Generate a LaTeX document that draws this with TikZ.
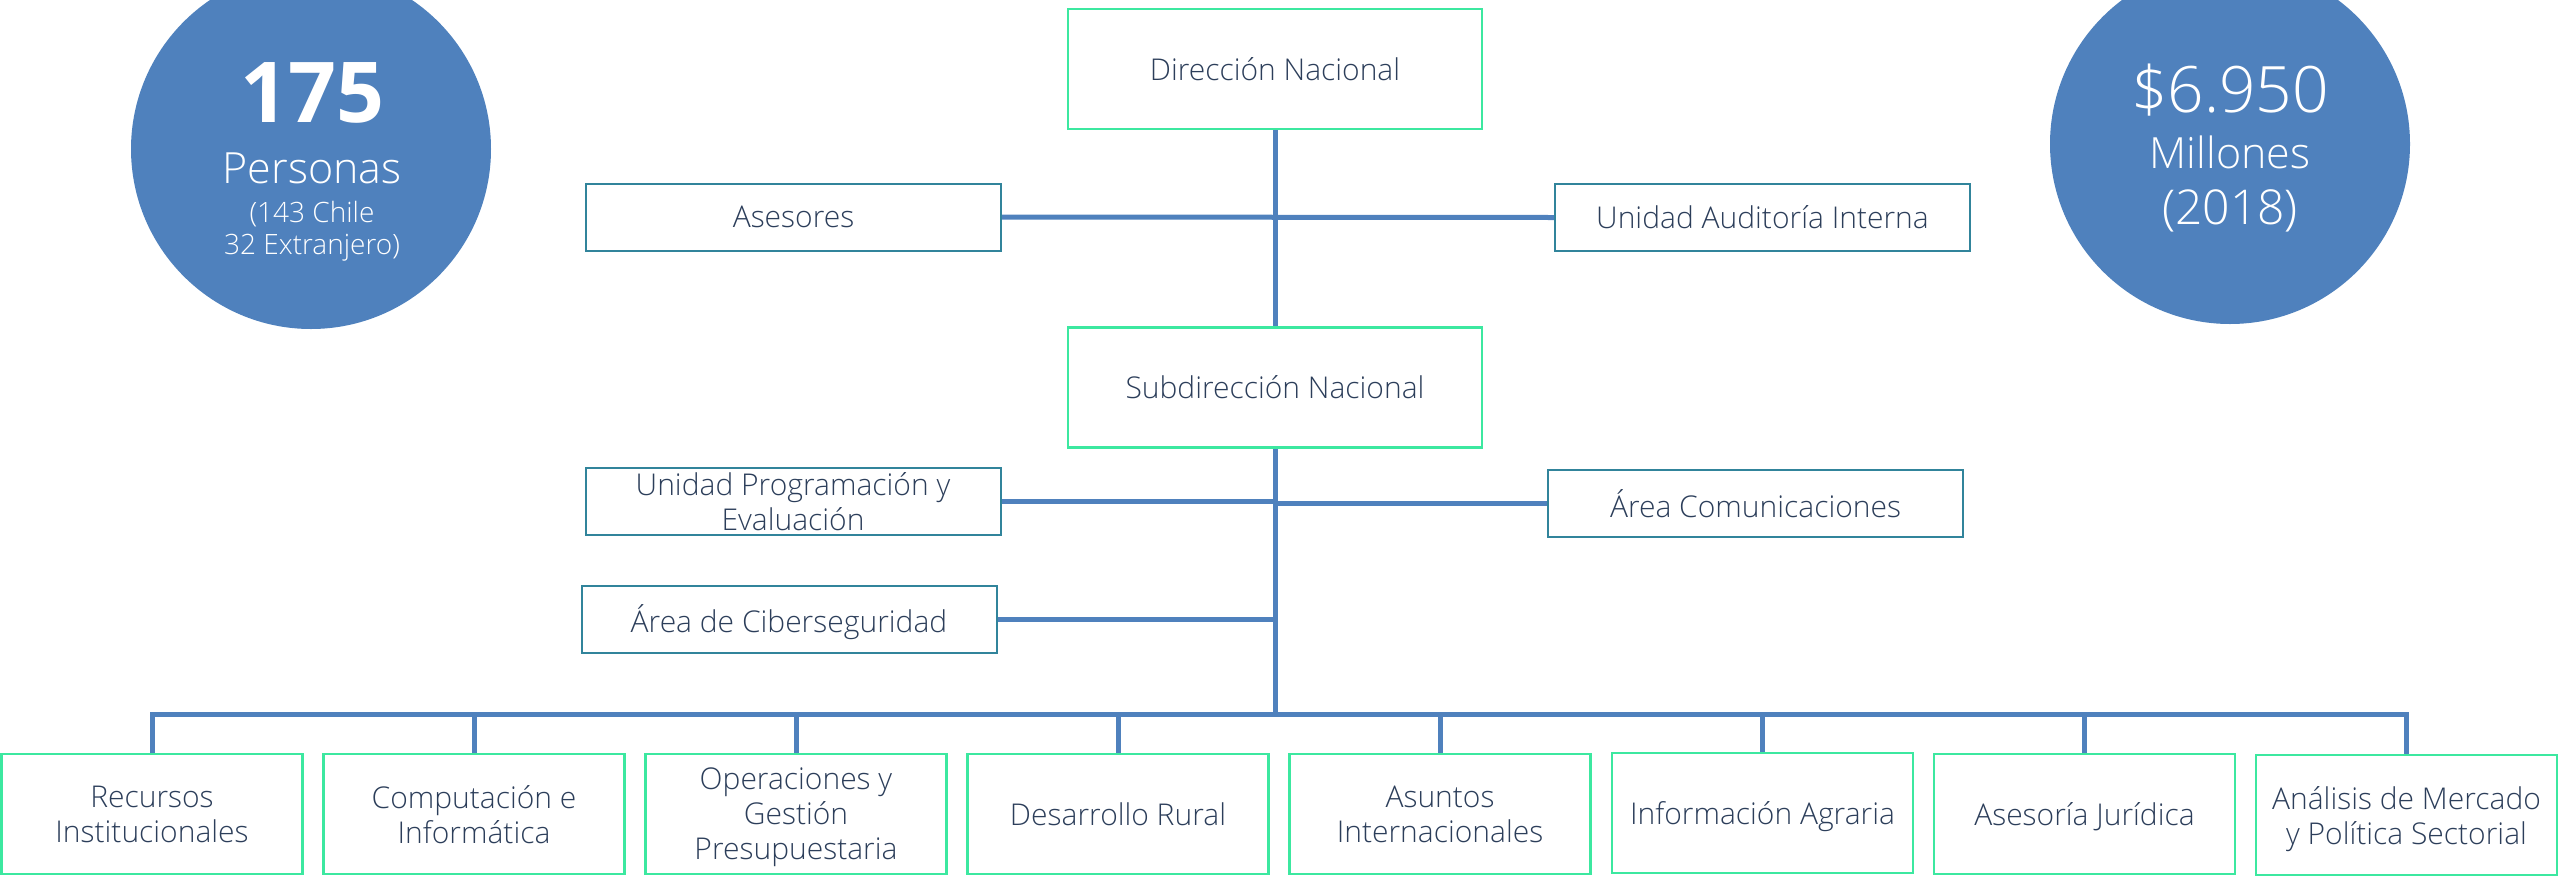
\documentclass[tikz,border=0pt]{standalone}
\usepackage{fontspec}
\setmainfont{Open Sans}[UprightFont=* Light, BoldFont=* Bold]
\definecolor{conn}{HTML}{4F81BD}
\definecolor{mint}{HTML}{3CE8A0}
\definecolor{tealb}{HTML}{31849B}
\definecolor{ink}{HTML}{2C3E5A}
\tikzset{
  boxtext/.style={align=center, text=ink, inner sep=0pt, text depth=0pt, font=\fontsize{30}{35}\selectfont},
  mainbox/.style={boxtext, draw=mint, line width=2.5pt, minimum width=414pt, minimum height=120pt},
  sidebox/.style={boxtext, draw=tealb, line width=2pt, minimum width=415pt, minimum height=67pt},
  unitbox/.style={boxtext, draw=mint, line width=2.5pt, minimum width=301pt, minimum height=120pt},
  link/.style={draw=conn, line width=5pt},
  stat/.style={circle, fill=conn, minimum size=360pt, inner sep=0pt},
  stattext/.style={text=white, anchor=base, inner sep=0pt},
}
\begin{document}
\begin{tikzpicture}[x=1pt, y=-1pt]
\clip (0,0) rectangle (2560,876);
% statistic circles
\node[stat] (c1) at (311,149) {};
\node[stattext, font=\bfseries\fontsize{84}{84}\selectfont] (n175) at (312,122) {175};
\node[stattext, font=\fontsize{43}{43}\selectfont] (pers) at (312,183) {Personas};
\node[stattext, font=\fontsize{28}{32}\selectfont] (chile) at (312,222) {(143 Chile};
\node[stattext, font=\fontsize{28}{32}\selectfont] (extr) at (312,254) {32 Extranjero)};
\node[stat] (c2) at (2230,144) {};
\node[stattext, font=\fontsize{64}{64}\selectfont] (money) at (2230,112) {\$6.950};
\node[stattext, font=\fontsize{43}{43}\selectfont] (mill) at (2230,168) {Millones};
\node[stattext, font=\fontsize{48}{48}\selectfont] (year) at (2230,224) {(2018)};
% main boxes
\node[mainbox] (dir) at (1275,69) {Dirección Nacional};
\node[mainbox] (sub) at (1275,387.5) {Subdirección Nacional};
% side boxes
\node[sidebox] (ases) at (793.5,217) {Asesores};
\node[sidebox] (aud) at (1762.5,217.5) {Unidad Auditoría Interna};
\node[sidebox] (prog) at (793,501.5) {Unidad Programación y\\Evaluación};
\node[sidebox] (com) at (1755.5,503.5) {Área Comunicaciones};
\node[sidebox] (cib) at (789,619) {Área de Ciberseguridad};
% unit boxes
\node[unitbox] (u1) at (152,814) {Recursos\\Institucionales};
\node[unitbox] (u2) at (474,814) {Computación e\\Informática};
\node[unitbox] (u3) at (796,814) {Operaciones y\\Gestión\\Presupuestaria};
\node[unitbox] (u4) at (1118,814) {Desarrollo Rural};
\node[unitbox] (u5) at (1440,814) {Asuntos\\Internacionales};
\node[unitbox] (u6) at (1762.5,813) {Información Agraria};
\node[unitbox] (u7) at (2084.5,814) {Asesoría Jurídica};
\node[unitbox] (u8) at (2406.5,815) {Análisis de Mercado\\y Política Sectorial};
% connectors
\coordinate (bus) at (1275,714);
\draw[link] (dir.south) -- (sub.north);
\draw[link] (ases.east) -- (aud.west);
\draw[link] (sub.south) -- (bus);
\draw[link] (prog.east) -- (prog.east -| sub.south);
\draw[link] (com.west) -- (com.west -| sub.south);
\draw[link] (cib.east) -- (cib.east -| sub.south);
\draw[link] (u1.north) -- (u1.north |- bus) -- (u8.north |- bus) -- (u8.north);
\foreach \i in {2,...,7} {\draw[link] (u\i.north |- bus) -- (u\i.north);}
\end{tikzpicture}
\end{document}
